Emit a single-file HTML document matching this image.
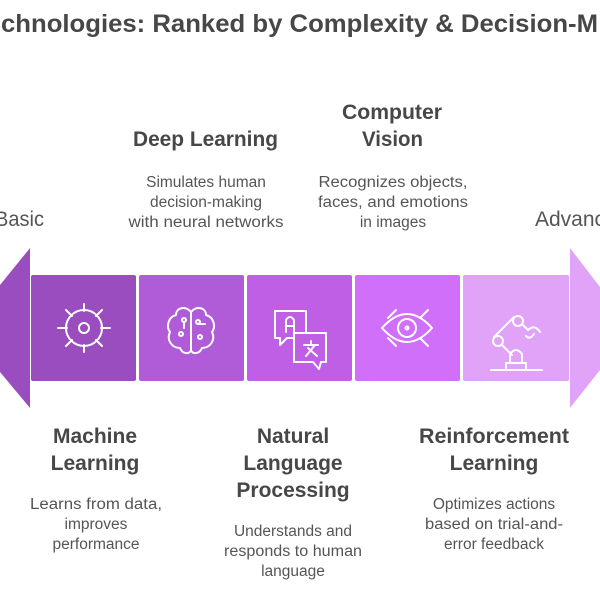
<!DOCTYPE html>
<html><head><meta charset="utf-8"><style>
html,body{margin:0;padding:0;background:#fff;width:600px;height:593px;overflow:hidden}
svg{display:block}
.t{font-family:"Liberation Sans",sans-serif;font-weight:bold;font-size:21px;fill:#474747}
.d{font-family:"Liberation Sans",sans-serif;font-size:15.5px;fill:#555}
.i{fill:none;stroke:#fff;stroke-width:2;stroke-linecap:round;stroke-linejoin:round}
</style></head><body>
<svg width="600" height="593" viewBox="0 0 600 593" xmlns="http://www.w3.org/2000/svg">
<text class="t" x="1" y="32" style="font-size:25px" textLength="597" lengthAdjust="spacingAndGlyphs">chnologies: Ranked by Complexity &amp; Decision-M</text>

<polygon points="30,248 30,408 0,372 0,285" fill="#9a4dbf"/>
<polygon points="570,248 570,408 600,370 600,287" fill="#e0a3f8"/>
<rect x="31" y="275" width="105" height="106" rx="2" fill="#9a4dbf"/>
<rect x="139" y="275" width="105" height="106" rx="2" fill="#b05bd8"/>
<rect x="247" y="275" width="105" height="106" rx="2" fill="#bf5fe6"/>
<rect x="355" y="275" width="105" height="106" rx="2" fill="#d070fa"/>
<rect x="463" y="275" width="106" height="106" rx="2" fill="#e0a3f8"/>

<g class="i">
<circle cx="84" cy="328" r="18"/><circle cx="84" cy="328" r="5"/>
<line x1="84" y1="311" x2="84" y2="304"/><line x1="84" y1="345" x2="84" y2="352"/>
<line x1="67" y1="328" x2="58" y2="328"/><line x1="101" y1="328" x2="110" y2="328"/>
<line x1="72" y1="316" x2="66" y2="310"/><line x1="96" y1="316" x2="102" y2="310"/>
<line x1="72" y1="340" x2="66" y2="346"/><line x1="96" y1="340" x2="102" y2="346"/>
</g>
<g class="i">
<path d="M191,312 C185,305 176,308 176,315 C168,317 166,327 170,332 C166,340 172,348 180,348 C183,355 190,354 191,350 Z"/>
<path d="M191,312 C197,305 206,308 206,315 C214,317 216,327 212,332 C216,340 210,348 202,348 C199,355 192,354 191,350 Z"/>
<line x1="191" y1="312" x2="191" y2="350"/>
<circle cx="184" cy="320" r="2"/><circle cx="181" cy="334" r="2"/><circle cx="198" cy="322" r="2"/><circle cx="200" cy="337" r="2"/>
<path d="M184,322 V328 M198,324 H205"/>
</g>
<g class="i">
<path d="M275,311 H306 V338 H287 L280,345 V338 H275 Z" />
<path d="M294,333 H326 V362 H321 L319,369 L313,362 H294 Z" fill="#bf5fe6"/>
<path d="M286,332 V320 Q290,314 294,320 V332 M286,326 H294"/>
<path d="M304,345 H318 M311,341 V345 M306,356 L315,345 M308,348 L317,356"/>
</g>
<g class="i">
<path d="M382,328 Q407,300 432,328 Q407,356 382,328 Z"/>
<circle cx="407" cy="328" r="9"/><circle cx="407" cy="328" r="1.5"/>
<line x1="388" y1="318" x2="396" y2="310"/><line x1="420" y1="318" x2="428" y2="310"/>
<line x1="388" y1="338" x2="396" y2="346"/><line x1="420" y1="338" x2="428" y2="346"/>
</g>
<g class="i">
<line x1="491" y1="370" x2="542" y2="370"/>
<path d="M506,370 V363 H526 V370"/>
<path d="M510,363 V354 Q516,346 522,354 V363"/>
<circle cx="498" cy="341" r="5"/><circle cx="518" cy="321" r="5"/>
<path d="M494,337 L514,317 M502,345 L512,355 M522,324 L528,330 Q535,324 540,332 M526,336 Q530,340 534,334"/>
</g>

<text class="t" x="133" y="146" textLength="145" lengthAdjust="spacingAndGlyphs">Deep Learning</text>
<text class="t" x="342" y="119" textLength="100" lengthAdjust="spacingAndGlyphs">Computer</text>
<text class="t" x="362" y="146" textLength="61" lengthAdjust="spacingAndGlyphs">Vision</text>
<g class="d" text-anchor="middle">
<text x="206" y="187">Simulates human</text>
<text x="206" y="207">decision-making</text>
<text x="206" y="227" textLength="155" lengthAdjust="spacingAndGlyphs">with neural networks</text>
<text x="393" y="187" textLength="149" lengthAdjust="spacingAndGlyphs">Recognizes objects,</text>
<text x="393" y="207" textLength="150" lengthAdjust="spacingAndGlyphs">faces, and emotions</text>
<text x="393" y="227">in images</text>
</g>
<text class="d" x="-5" y="226" style="font-size:21px" textLength="49" lengthAdjust="spacingAndGlyphs">Basic</text>
<text class="d" x="535" y="226" style="font-size:21px">Advanced</text>

<g class="t" text-anchor="middle">
<text x="95" y="443">Machine</text>
<text x="95" y="470">Learning</text>
<text x="293" y="443">Natural</text>
<text x="293" y="470">Language</text>
<text x="293" y="497">Processing</text>
<text x="494" y="443" textLength="150" lengthAdjust="spacingAndGlyphs">Reinforcement</text>
<text x="494" y="470">Learning</text>
</g>
<g class="d" text-anchor="middle">
<text x="96" y="509" textLength="132" lengthAdjust="spacingAndGlyphs">Learns from data,</text>
<text x="96" y="529">improves</text>
<text x="96" y="549">performance</text>
<text x="293" y="536">Understands and</text>
<text x="293" y="556" textLength="138" lengthAdjust="spacingAndGlyphs">responds to human</text>
<text x="293" y="576">language</text>
<text x="494" y="509">Optimizes actions</text>
<text x="494" y="529" textLength="138" lengthAdjust="spacingAndGlyphs">based on trial-and-</text>
<text x="494" y="549">error feedback</text>
</g>
</svg>
</body></html>
